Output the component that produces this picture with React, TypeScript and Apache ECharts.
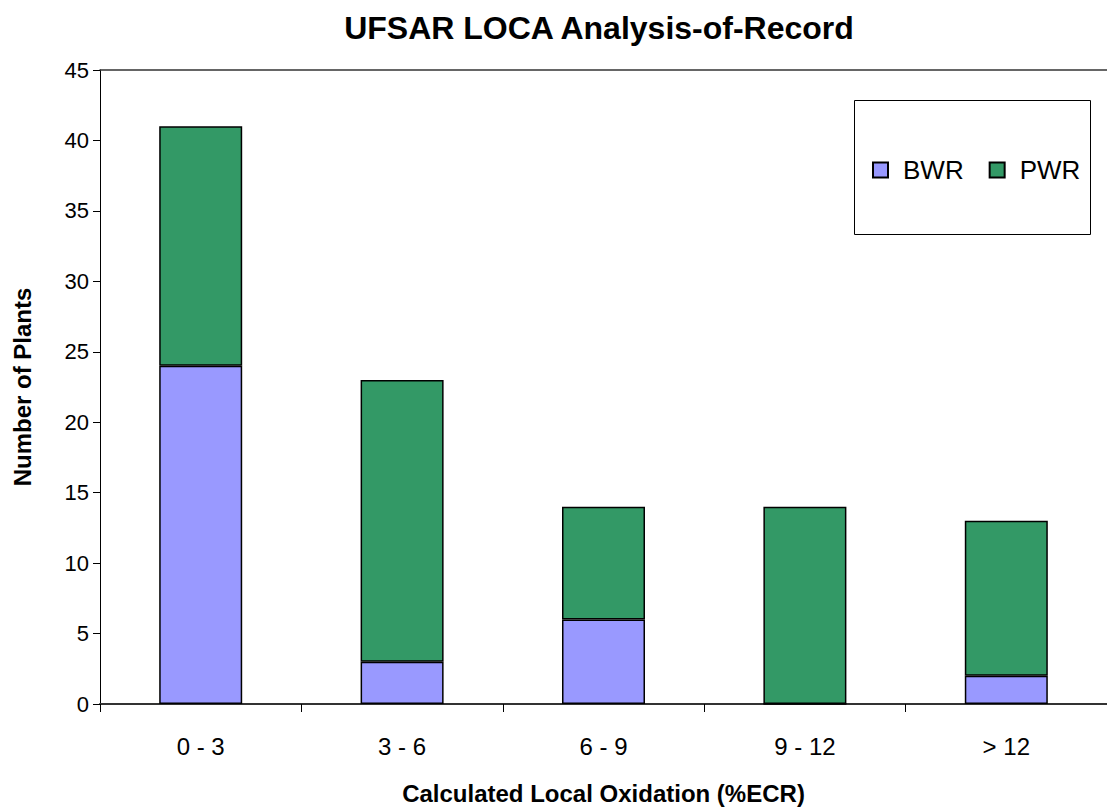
import React, { useEffect, useRef } from "react";
import * as echarts from "echarts";

const categories = ["0 - 3", "3 - 6", "6 - 9", "9 - 12", "> 12"];
const bwrValues = [24, 3, 6, 0, 2];
const pwrValues = [17, 20, 8, 14, 11];
const yMin = 0;
const yMax = 45;
const yInterval = 5;

export default function App() {
  const ref = useRef<HTMLDivElement>(null);
  useEffect(() => {
    if (!ref.current) return;
    const chart = echarts.init(ref.current, null, { renderer: "svg" });
    const font = "Arial, 'Liberation Sans', Helvetica, sans-serif";
    chart.setOption({
      animation: false,
      backgroundColor: "#ffffff",
      title: {
        text: "UFSAR LOCA Analysis-of-Record",
        left: 594,
        top: 7,
        textAlign: "center",
        textStyle: { fontFamily: font, fontWeight: "bold", fontSize: 32, color: "#000" },
      },
      grid: {
        left: 100,
        top: 70,
        right: 0,
        bottom: 106,
        containLabel: false,
        outerBoundsMode: "none",
      },
      graphic: [
        {
          type: "rect",
          left: 854,
          top: 100,
          shape: { width: 236, height: 134 },
          style: { fill: "#fff", stroke: "#000", lineWidth: 1 },
          z: 1,
        },
      ],
      legend: {
        left: 867,
        top: 152,
        icon: "rect",
        itemWidth: 15,
        itemHeight: 15,
        itemGap: 25,
        z: 10,
        textStyle: { fontFamily: font, fontSize: 26, color: "#000", padding: [0, 0, 0, 10] },
        data: ["BWR", "PWR"],
      },
      xAxis: [
        {
          type: "category",
          data: categories,
          axisLine: { lineStyle: { color: "#333", width: 2 } },
          axisTick: { show: true, length: 8, lineStyle: { color: "#000" } },
          axisLabel: { fontFamily: font, fontSize: 24, color: "#000", margin: 30 },
          name: "Calculated Local Oxidation (%ECR)",
          nameLocation: "middle",
          nameGap: 77,
          nameTextStyle: { fontFamily: font, fontWeight: "bold", fontSize: 24, color: "#000" },
        },
        {
          type: "category",
          data: categories,
          position: "top",
          axisLine: { show: true, lineStyle: { color: "#333", width: 1.5 } },
          axisTick: { show: false },
          axisLabel: { show: false },
        },
      ],
      yAxis: {
        type: "value",
        min: yMin,
        max: yMax,
        interval: yInterval,
        axisLine: { show: true, lineStyle: { color: "#000", width: 1 } },
        axisTick: { show: true, length: 7, lineStyle: { color: "#000" } },
        splitLine: { show: false },
        axisLabel: { fontFamily: font, fontSize: 22, color: "#000", margin: 11 },
        name: "Number of Plants",
        nameLocation: "middle",
        nameGap: 66,
        nameTextStyle: { fontFamily: font, fontWeight: "bold", fontSize: 24, color: "#000" },
      },
      series: [
        {
          name: "BWR",
          type: "bar",
          stack: "total",
          data: bwrValues,
          barWidth: 83,
          itemStyle: { color: "#9999FF", borderColor: "#000", borderWidth: 1.5 },
        },
        {
          name: "PWR",
          type: "bar",
          stack: "total",
          data: pwrValues,
          barWidth: 83,
          itemStyle: { color: "#339966", borderColor: "#000", borderWidth: 1.5 },
        },
      ],
    });
    return () => chart.dispose();
  }, []);
  return (
    <div
      ref={ref}
      style={{ position: "fixed", left: 0, top: 0, width: 1107, height: 810 }}
    />
  );
}
